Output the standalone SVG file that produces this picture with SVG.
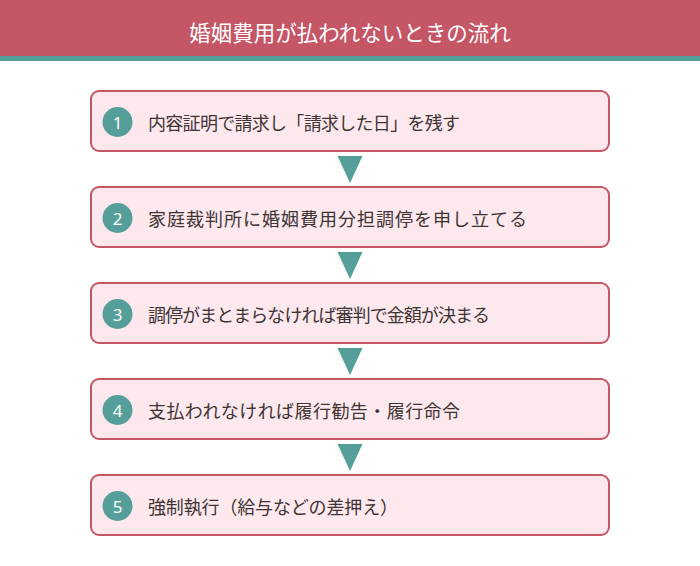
<svg xmlns="http://www.w3.org/2000/svg" width="700" height="566" viewBox="0 0 700 566">
<style>
.box{fill:#FCE8ED;stroke:#C45666;stroke-width:2}
.num{fill:#559E99}
.numt{font-family:"Noto Sans","Liberation Sans",sans-serif;font-size:17px;fill:#FFFFFF;text-anchor:middle;dominant-baseline:central}
.lbl{font-family:"Noto Sans CJK JP","Noto Sans CJK SC",sans-serif;font-size:18px;fill:#3E3434;dominant-baseline:central}
.arr{fill:#559E99}
</style>
<rect width="700" height="566" fill="#FFFFFF"/>
<g id="header">
<rect x="0" y="0" width="700" height="56" fill="#C45666"/>
<rect x="0" y="56" width="700" height="5" fill="#559E99"/>
<text x="350" y="31" font-family="Noto Sans CJK JP,Noto Sans CJK SC,sans-serif" font-size="21.5" fill="#FFFFFF" text-anchor="middle" dominant-baseline="central">婚姻費用が払われないときの流れ</text>
</g>
<g id="connectors">
<polygon class="arr" points="337.5,156 362.5,156 350,183"/>
<polygon class="arr" points="337.5,252 362.5,252 350,279"/>
<polygon class="arr" points="337.5,348 362.5,348 350,375"/>
<polygon class="arr" points="337.5,444 362.5,444 350,471"/>
</g>
<g id="step1">
<rect class="box" x="91" y="91" width="518" height="60" rx="8"/>
<circle class="num" cx="117.5" cy="122" r="15"/>
<text class="numt" x="117.5" y="122">1</text>
<text class="lbl" x="148" y="122" textLength="312" lengthAdjust="spacing">内容証明で請求し「請求した日」を残す</text>
</g>
<g id="step2">
<rect class="box" x="91" y="187" width="518" height="60" rx="8"/>
<circle class="num" cx="117.5" cy="218" r="15"/>
<text class="numt" x="117.5" y="218">2</text>
<text class="lbl" x="148" y="218" textLength="379" lengthAdjust="spacing">家庭裁判所に婚姻費用分担調停を申し立てる</text>
</g>
<g id="step3">
<rect class="box" x="91" y="283" width="518" height="60" rx="8"/>
<circle class="num" cx="117.5" cy="314" r="15"/>
<text class="numt" x="117.5" y="314">3</text>
<text class="lbl" x="148" y="314" textLength="342" lengthAdjust="spacing">調停がまとまらなければ審判で金額が決まる</text>
</g>
<g id="step4">
<rect class="box" x="91" y="379" width="518" height="60" rx="8"/>
<circle class="num" cx="117.5" cy="410" r="15"/>
<text class="numt" x="117.5" y="410">4</text>
<text class="lbl" x="148" y="410" textLength="312" lengthAdjust="spacing">支払われなければ履行勧告・履行命令</text>
</g>
<g id="step5">
<rect class="box" x="91" y="475" width="518" height="60" rx="8"/>
<circle class="num" cx="117.5" cy="506" r="15"/>
<text class="numt" x="117.5" y="506">5</text>
<text class="lbl" x="148" y="506" textLength="250" lengthAdjust="spacing">強制執行（給与などの差押え）</text>
</g>
</svg>
